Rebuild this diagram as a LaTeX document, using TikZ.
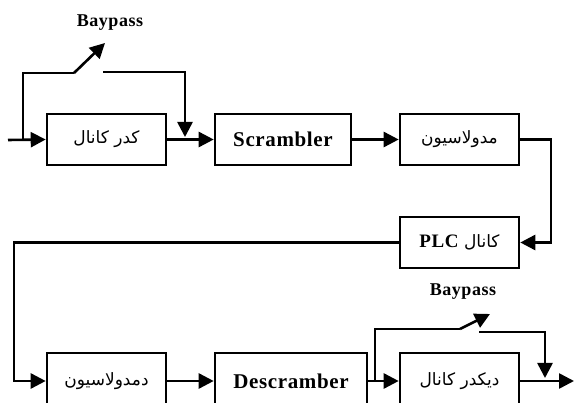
\documentclass[tikz,border=0pt]{standalone}
\usepackage{fontspec}
\setmainfont{Liberation Serif}
\newfontfamily\latfont[LetterSpace=3]{Liberation Serif}
\newfontfamily\arabicfont[Script=Arabic]{DejaVu Sans}
\TeXXeTstate=1
\usetikzlibrary{arrows.meta}
\tikzset{
  blk/.style={draw, line width=2.6pt, inner sep=0pt, minimum width=119pt, minimum height=51pt},
  ln/.style={line width=2.6pt},
  arr/.style={line width=2.6pt, -{Triangle[length=15pt,width=15pt]}},
  lat/.style={font=\latfont\bfseries\fontsize{21}{23}\selectfont},
  fa/.style={font=\arabicfont\fontsize{17}{19}\selectfont},
  lbl/.style={font=\latfont\bfseries\fontsize{18}{20}\selectfont, inner sep=0pt}
}
\begin{document}
\begin{tikzpicture}[x=1pt,y=-1pt]
\useasboundingbox (0,0) rectangle (574,403);
\clip (0,0) rectangle (574,403);
% top row
\node[blk, fa] (coder) at (106.5,139.5) {\beginR کدر کانال\endR};
\node[blk, lat, minimum width=136pt] (scr) at (283,139.5) {Scrambler};
\node[blk, fa] (mod) at (459.5,139.5) {\beginR مدولاسیون\endR};
\node[blk, fa] (plc) at (459.5,242.5) {\beginR کانال \beginL{\latfont\bfseries\fontsize{19}{21}\selectfont PLC}\endL\endR};
% bottom row (cut by the frame)
\node[blk, fa, minimum height=56pt] (demod) at (106.5,381) {\beginR دمدولاسیون\endR};
\node[blk, lat, minimum width=152pt, minimum height=56pt] (descr) at (291,381) {Descramber};
\node[blk, fa, minimum height=56pt] (dec) at (459.5,381) {\beginR دیکدر کانال\endR};
% labels
\node[lbl] (bp1) at (110,23) {Baypass};
\node[lbl] (bp2) at (463,292) {Baypass};
% coordinates
\coordinate (in) at (8,140);
\coordinate (j1) at (23,140);
\coordinate (s1a) at (74,73);
\coordinate (s1tip) at (105,43);
\coordinate (s1b) at (103,72);
\coordinate (j2) at (185,137);
\coordinate (c1) at (551,190);
\coordinate (c2) at (14,300);
\coordinate (j3) at (375,381);
\coordinate (s2a) at (460,329);
\coordinate (s2tip) at (490,314);
\coordinate (s2b) at (479,332);
\coordinate (j4) at (545,378);
\coordinate (out) at (574,381);
% connectors top
\draw[arr] (in) -- (coder.west);
\draw[ln] (j1) |- (s1a);
\draw[arr] (s1a) -- (s1tip);
\draw[arr] (s1b) -| (j2);
\draw[arr] (coder.east) -- (scr.west);
\draw[arr] (scr.east) -- (mod.west);
\draw[arr] (mod.east) -| (c1) |- (plc.east);
\draw[arr] (plc.west) -| (c2) |- (demod.west);
% connectors bottom
\draw[arr] (demod.east) -- (descr.west);
\draw[arr] (descr.east) -- (dec.west);
\draw[ln] (j3) |- (s2a);
\draw[arr] (s2a) -- (s2tip);
\draw[arr] (s2b) -| (j4);
\draw[arr] (dec.east) -- (out);
\end{tikzpicture}
\end{document}
